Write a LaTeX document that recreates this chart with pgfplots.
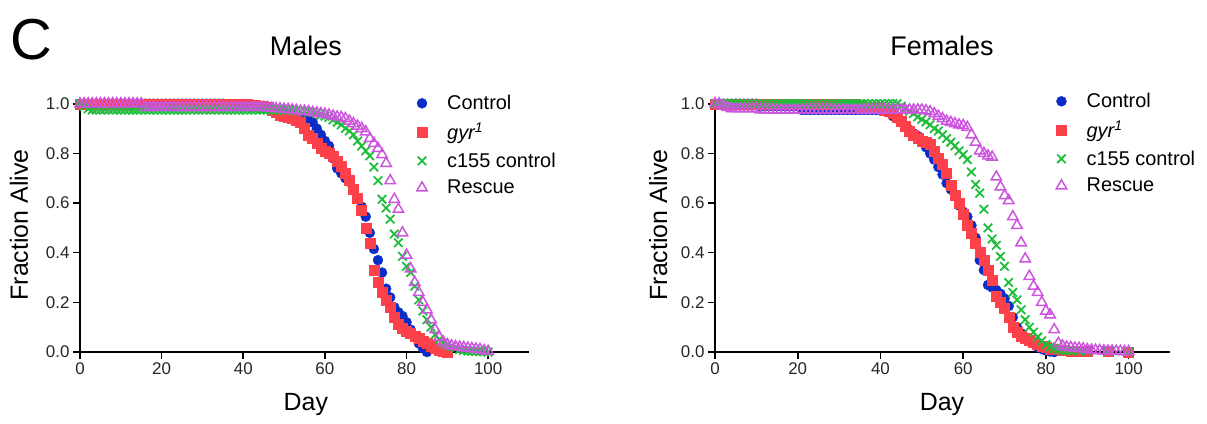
\documentclass[border=0pt]{standalone}
\usepackage{fontspec}
\setmainfont{Liberation Sans}
\usepackage{pgfplots}
\pgfplotsset{compat=1.18}
\definecolor{cblue}{RGB}{10,45,200}
\definecolor{cred}{RGB}{252,65,75}
\definecolor{cgreen}{RGB}{30,190,60}
\definecolor{cmag}{RGB}{204,85,221}
\pgfplotsset{
  surv/.style={
    scale only axis, height=252bp,
    xmin=0, xmax=110, ymin=0, ymax=1.015,
    axis x line*=bottom, axis y line*=left,
    axis line style={line width=2.5bp, black, -},
    xtick={0,20,...,100}, ytick={0,0.2,0.4,0.6,0.8,1.0},
    yticklabel style={/pgf/number format/.cd, fixed, fixed zerofill, precision=1},
    /pgf/number format/assume math mode=true,
    tick style={line width=1.6bp, black},
    major tick length=7bp, tick align=outside,
    ticklabel style={font=\fontsize{17}{20}\selectfont, text=black!85},
    label style={font=\fontsize{25}{30}\selectfont},
    title style={font=\fontsize{27}{32}\selectfont, anchor=center},
    clip=false,
    legend cell align=left,
    legend style={draw=none, fill=none, anchor=north west,
      font=\fontsize{20}{24}\selectfont, row sep=7.5bp,
      /tikz/every odd column/.append style={column sep=18bp}},
  },
  pc/.style={only marks, mark=*, mark size=5bp, cblue, mark options={draw=cblue, fill=cblue}},
  pg/.style={only marks, mark=square*, mark size=5bp, cred, mark options={draw=cred, fill=cred}},
  px/.style={only marks, mark=x, mark size=6bp, cgreen, mark options={line width=1.8bp, draw=cgreen}},
  pr/.style={only marks, mark=triangle, mark size=6bp, cmag, mark options={line width=1.5bp, draw=cmag, fill=none}},
}
\begin{document}
\begin{tikzpicture}[x=1bp,y=1bp]
\useasboundingbox (0,0) rectangle (1207,423);
\node[font=\fontsize{58}{64}\selectfont] at (31,383) {C};
% ---------------- Males ----------------
\begin{axis}[surv, at={(80bp,71bp)}, width=449bp,
  title={Males}, title style={at={(axis description cs:0.503,1.19)}},
  xlabel={Day}, xlabel style={at={(axis description cs:0.503,-0.21)}, anchor=center},
  ylabel={Fraction Alive}, ylabel style={at={(axis description cs:-0.136,0.504)}, anchor=center},
  legend style={at={(axis description cs:0.743,1.035)}}]
\addplot[pc] coordinates {
(0,1)(1,1)(2,1)(3,1)(4,1)(5,1)(6,1)(7,1)(8,1)(9,1)(10,1)(11,1)(12,1)(13,1)(14,1)(15,1)(16,1)(17,1)(18,1)(19,1)(20,1)
(21,1)(22,1)(23,1)(24,1)(25,1)(26,1)(27,1)(28,1)(29,1)(30,1)(31,1)(32,1)(33,1)(34,1)(35,1)
(36,0.996)(37,0.996)(38,0.993)(39,0.993)(40,0.99)(41,0.99)(42,0.987)(43,0.987)(44,0.983)(45,0.983)
(46,0.98)(47,0.977)(48,0.973)(49,0.97)(50,0.967)(51,0.96)(52,0.955)(53,0.95)(54,0.945)(55,0.94)
(56,0.935)(57,0.925)(58,0.9)(59,0.875)(60,0.85)(61,0.83)(62,0.78)(63,0.74)(64,0.72)(65,0.70)
(66,0.685)(67,0.655)(68,0.62)(69,0.585)(70,0.545)(71,0.48)(72,0.415)(73,0.37)(74,0.32)(75,0.255)
(76,0.22)(77,0.18)(78,0.16)(79,0.145)(80,0.12)(81,0.09)(82,0.06)(83,0.035)(84,0.015)(85,0)
};
\addlegendentry{Control}
\addplot[pg] coordinates {
(0,1)(1,1)(2,1)(3,1)(4,1)(5,1)(6,1)(7,1)(8,1)(9,1)(10,1)(11,1)(12,1)(13,1)(14,1)(15,1)(16,1)(17,1)(18,1)(19,1)(20,1)
(21,1)(22,1)(23,1)(24,1)(25,1)(26,1)(27,1)(28,1)(29,1)(30,1)(31,1)(32,1)(33,1)(34,1)(35,1)(36,1)(37,1)(38,1)(39,1)(40,1)
(41,0.997)(42,0.995)(43,0.993)(44,0.991)(45,0.99)(46,0.985)(47,0.975)(48,0.965)(49,0.955)(50,0.95)
(51,0.945)(52,0.94)(53,0.935)(54,0.925)(55,0.9)(56,0.875)(57,0.86)(58,0.84)(59,0.82)(60,0.81)
(61,0.80)(62,0.79)(63,0.77)(64,0.75)(65,0.72)(66,0.69)(67,0.655)(68,0.62)(69,0.57)(70,0.50)
(71,0.44)(72,0.33)(73,0.28)(74,0.24)(75,0.21)(76,0.18)(77,0.14)(78,0.11)(79,0.095)(80,0.085)
(81,0.075)(82,0.065)(83,0.055)(84,0.045)(85,0.035)(86,0.025)(87,0.015)(88,0.008)(89,0.004)(90,0)
};
\addlegendentry{\textit{gyr\textsuperscript{1}}}
\addplot[px] coordinates {
(0,1)(1,0.99)(2,0.98)(3,0.975)(4,0.975)(5,0.975)(6,0.975)(7,0.975)(8,0.975)(9,0.975)(10,0.975)
(11,0.975)(12,0.975)(13,0.975)(14,0.975)(15,0.975)(16,0.975)(17,0.975)(18,0.975)(19,0.975)(20,0.975)
(21,0.975)(22,0.975)(23,0.975)(24,0.975)(25,0.975)(26,0.975)(27,0.975)(28,0.975)(29,0.975)(30,0.975)
(31,0.975)(32,0.975)(33,0.975)(34,0.975)(35,0.975)(36,0.975)(37,0.975)(38,0.975)(39,0.975)(40,0.975)
(41,0.975)(42,0.975)(43,0.975)(44,0.975)(45,0.975)(46,0.975)(47,0.975)(48,0.975)(49,0.975)(50,0.975)
(51,0.975)(52,0.975)(53,0.972)(54,0.97)(55,0.97)(56,0.967)(57,0.965)(58,0.96)(59,0.955)(60,0.95)
(61,0.945)(62,0.935)(63,0.925)(64,0.915)(65,0.9)(66,0.89)(67,0.875)(68,0.85)(69,0.83)(70,0.81)
(71,0.79)(72,0.745)(73,0.69)(74,0.615)(75,0.58)(76,0.535)(77,0.475)(78,0.44)(79,0.385)(80,0.345)
(81,0.32)(82,0.265)(83,0.21)(84,0.165)(85,0.13)(86,0.1)(87,0.07)(88,0.05)(89,0.036)(90,0.028)
(91,0.022)(92,0.015)(93,0.01)(94,0.006)(95,0.004)(96,0.003)(97,0.002)(98,0.002)(99,0.001)(100,0)
};
\addlegendentry{c155 control}
\addplot[pr] coordinates {
(0,1)(1,1)(2,1)(3,1)(4,1)(5,1)(6,1)(7,1)(8,1)(9,1)(10,1)(11,1)(12,1)(13,1)(14,1)(15,1)
(16,0.985)(17,0.985)(18,0.985)(19,0.985)(20,0.985)(21,0.985)(22,0.985)(23,0.985)(24,0.985)(25,0.985)
(26,0.985)(27,0.985)(28,0.985)(29,0.985)(30,0.985)(31,0.985)(32,0.985)(33,0.985)(34,0.985)(35,0.985)
(36,0.985)(37,0.985)(38,0.985)(39,0.985)(40,0.985)(41,0.985)(42,0.985)(43,0.985)(44,0.985)(45,0.985)
(46,0.983)(47,0.982)(48,0.98)(49,0.98)(50,0.978)(51,0.977)(52,0.975)(53,0.973)(54,0.97)(55,0.97)
(56,0.968)(57,0.965)(58,0.963)(59,0.96)(60,0.958)(61,0.955)(62,0.95)(63,0.947)(64,0.945)(65,0.94)
(66,0.93)(67,0.92)(68,0.91)(69,0.9)(70,0.887)(71,0.86)(72,0.84)(73,0.82)(74,0.795)(75,0.76)
(76,0.69)(77,0.615)(78,0.575)(79,0.48)(80,0.39)(81,0.335)(82,0.28)(83,0.24)(84,0.2)(85,0.17)
(86,0.13)(87,0.09)(88,0.06)(89,0.04)(90,0.03)(91,0.025)(92,0.022)(93,0.02)(94,0.018)(95,0.016)
(96,0.014)(97,0.012)(98,0.01)(99,0.006)(100,0.003)
};
\addlegendentry{Rescue}
\end{axis}
% ---------------- Females ----------------
\begin{axis}[surv, at={(715bp,71bp)}, width=455bp,
  title={Females}, title style={at={(axis description cs:0.499,1.19)}},
  xlabel={Day}, xlabel style={at={(axis description cs:0.499,-0.21)}, anchor=center},
  ylabel={Fraction Alive}, ylabel style={at={(axis description cs:-0.125,0.504)}, anchor=center},
  legend style={at={(axis description cs:0.743,1.043)}}]
\addplot[pc] coordinates {
(0,1)(1,1)(2,1)(3,1)(4,1)(5,1)(6,1)(7,1)(8,1)(9,1)(10,1)
(11,0.99)(12,0.99)(13,0.99)(14,0.99)(15,0.99)(16,0.99)(17,0.99)(18,0.99)(19,0.99)(20,0.99)
(21,0.975)(22,0.975)(23,0.975)(24,0.975)(25,0.975)(26,0.975)(27,0.975)(28,0.975)(29,0.975)(30,0.975)
(31,0.975)(32,0.975)(33,0.975)(34,0.975)(35,0.975)(36,0.975)(37,0.975)(38,0.975)(39,0.975)(40,0.975)
(41,0.972)(42,0.965)(43,0.95)(44,0.94)(45,0.925)(46,0.91)(47,0.895)(48,0.88)(49,0.87)(50,0.85)
(51,0.825)(52,0.8)(53,0.775)(54,0.745)(55,0.715)(56,0.68)(57,0.655)(58,0.635)(59,0.59)(60,0.565)
(61,0.545)(62,0.51)(63,0.46)(64,0.37)(65,0.33)(66,0.27)(67,0.26)(68,0.25)(69,0.235)(70,0.215)
(71,0.185)(72,0.14)(73,0.1)(74,0.075)(75,0.06)(76,0.045)(77,0.035)(78,0.02)(79,0.012)(80,0.006)
(81,0.002)(82,0)
};
\addlegendentry{Control}
\addplot[pg] coordinates {
(0,1)(1,1)(2,1)(3,1)(4,1)(5,1)(6,1)(7,1)(8,1)(9,1)(10,1)(11,1)(12,1)(13,1)(14,1)(15,1)(16,1)(17,1)
(18,1)(19,1)(20,1)(21,1)(22,1)(23,1)(24,1)(25,1)(26,1)(27,1)(28,1)(29,1)(30,1)(31,1)(32,1)(33,1)(34,1)
(35,0.99)(36,0.985)(37,0.98)(38,0.98)(39,0.98)(40,0.98)(41,0.975)(42,0.97)(43,0.96)(44,0.945)
(45,0.93)(46,0.91)(47,0.89)(48,0.875)(49,0.86)(50,0.85)(51,0.845)(52,0.835)(53,0.81)(54,0.78)
(55,0.755)(56,0.72)(57,0.67)(58,0.63)(59,0.6)(60,0.555)(61,0.51)(62,0.48)(63,0.44)(64,0.4)
(65,0.37)(66,0.33)(67,0.29)(68,0.225)(69,0.2)(70,0.175)(71,0.14)(72,0.1)(73,0.08)(74,0.065)
(75,0.055)(76,0.048)(77,0.038)(78,0.03)(79,0.023)(80,0.018)(81,0.013)(82,0.01)(84,0.007)(86,0.005)
(88,0.004)(90,0.003)(95,0.002)(100,0)
};
\addlegendentry{\textit{gyr\textsuperscript{1}}}
\addplot[px] coordinates {
(0,1)(1,1)(2,1)(3,1)(4,1)(5,1)(6,1)(7,1)(8,1)(9,1)(10,1)(11,1)(12,1)(13,1)(14,1)(15,1)(16,1)(17,1)
(18,1)(19,1)(20,1)(21,1)(22,1)(23,1)(24,1)(25,1)(26,1)(27,1)(28,1)(29,1)(30,1)(31,1)(32,1)(33,1)
(34,1)(35,1)(36,1)(37,1)(38,1)(39,1)(40,1)(41,1)(42,1)(43,1)(44,1)
(45,0.99)(46,0.98)(47,0.97)(48,0.96)(49,0.947)(50,0.937)(51,0.927)(52,0.915)(53,0.9)(54,0.89)
(55,0.875)(56,0.86)(57,0.845)(58,0.83)(59,0.81)(60,0.795)(61,0.775)(62,0.725)(63,0.675)(64,0.64)
(65,0.575)(66,0.5)(67,0.455)(68,0.43)(69,0.385)(70,0.345)(71,0.28)(72,0.24)(73,0.21)(74,0.17)
(75,0.13)(76,0.1)(77,0.08)(78,0.06)(79,0.045)(80,0.03)(81,0.02)(82,0.015)(83,0.01)(84,0.008)
(85,0.006)(86,0.005)(88,0.004)(90,0.003)(95,0.002)(100,0.001)
};
\addlegendentry{c155 control}
\addplot[pr] coordinates {
(0,1)(1,1)(2,0.99)(3,0.985)(4,0.98)(5,0.98)(6,0.98)(7,0.98)(8,0.98)(9,0.98)(10,0.98)
(11,0.975)(12,0.975)(13,0.975)(14,0.975)(15,0.975)(16,0.975)(17,0.975)(18,0.975)(19,0.975)(20,0.975)
(21,0.975)(22,0.975)(23,0.975)(24,0.975)(25,0.975)(26,0.975)(27,0.975)(28,0.975)(29,0.975)(30,0.975)
(31,0.975)(32,0.975)(33,0.975)(34,0.975)(35,0.975)(36,0.975)(37,0.975)(38,0.975)(39,0.975)(40,0.975)
(41,0.975)(42,0.975)(43,0.975)(44,0.975)(45,0.975)(46,0.975)(47,0.975)(48,0.975)(49,0.975)(50,0.975)
(51,0.972)(52,0.968)(53,0.96)(54,0.95)(55,0.94)(56,0.93)(57,0.925)(58,0.92)(59,0.915)(60,0.912)
(61,0.905)(62,0.875)(63,0.845)(64,0.81)(65,0.8)(66,0.79)(67,0.785)(68,0.705)(69,0.665)(70,0.63)
(71,0.61)(72,0.545)(73,0.51)(74,0.44)(75,0.375)(76,0.305)(77,0.265)(78,0.24)(79,0.2)(80,0.165)
(81,0.15)(82,0.09)(83,0.035)(84,0.025)(85,0.02)(86,0.018)(87,0.016)(88,0.015)(89,0.013)(90,0.01)
(91,0.008)(92,0.007)(93,0.006)(94,0.005)(95,0.004)(96,0.004)(97,0.003)(98,0.003)(99,0.002)(100,0.002)
};
\addlegendentry{Rescue}
\end{axis}
\end{tikzpicture}
\end{document}
